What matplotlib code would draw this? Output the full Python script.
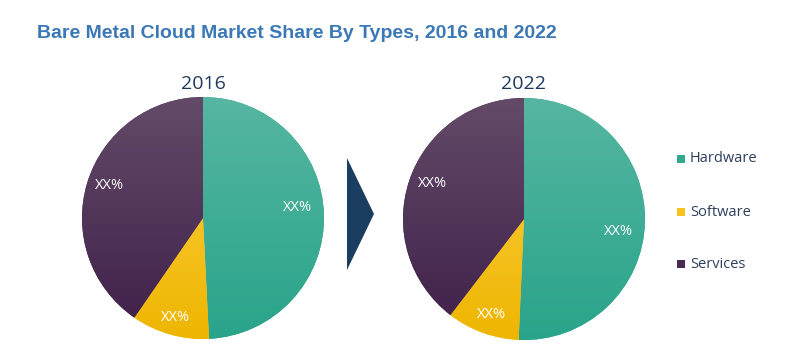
import numpy as np
import matplotlib
matplotlib.use('Agg')
import matplotlib.pyplot as plt
from matplotlib.colors import LinearSegmentedColormap
from matplotlib.patches import Polygon

categories = ['Hardware', 'Software', 'Services']
years = ['2016', '2022']
share_2016 = [49.2, 10.4, 40.4]
share_2022 = [50.7, 9.7, 39.6]
pct_labels = ['XX%', 'XX%', 'XX%']

# (top colour, bottom colour) for the soft vertical gradient in each wedge
grad = {
    'Hardware': ('#56b6a1', '#29a48a'),
    'Software': ('#ffd04a', '#eeb600'),
    'Services': ('#634b68', '#3f1f49'),
}
solid = {'Hardware': '#33a98f', 'Software': '#fbc31a', 'Services': '#4a2a52'}

# label spots inside each pie (axes data units, radius = 1)
label_pos = {
    '2016': [(0.78, 0.09), (-0.23, -0.82), (-0.77, 0.27)],
    '2022': [(0.785, -0.107), (-0.27, -0.79), (-0.76, 0.29)],
}

fig = plt.figure(figsize=(7.93, 3.63), dpi=100)
fig.patch.set_facecolor('white')

fig.text(37 / 793, 1 - 34 / 363, 'Bare Metal Cloud Market Share By Types, 2016 and 2022',
         fontsize=14, fontweight='bold', color='#3b78b6', family='Liberation Sans',
         va='center', ha='left')

W, H = 793, 363
R = 121
centers = {'2016': (203, 218), '2022': (524, 219)}
data = {'2016': share_2016, '2022': share_2022}

for yr in years:
    cx, cy = centers[yr]
    ax = fig.add_axes([(cx - R) / W, 1 - (cy + R) / H, 2 * R / W, 2 * R / H])
    wedges, _ = ax.pie(data[yr], startangle=90, counterclock=False,
                       colors=[solid[c] for c in categories], radius=1,
                       wedgeprops=dict(linewidth=0))
    yy = np.linspace(0, 1, 256).reshape(-1, 1)
    for w, c in zip(wedges, categories):
        cmap = LinearSegmentedColormap.from_list(c, [grad[c][1], grad[c][0]])
        im = ax.imshow(yy, cmap=cmap, extent=[-1, 1, -1, 1], origin='lower',
                       aspect='auto', zorder=2)
        im.set_clip_path(w)
    for (x, y), t in zip(label_pos[yr], pct_labels):
        ax.text(x, y, t, color='white', fontsize=10.5, family='Open Sans',
                ha='center', va='center', zorder=3)
    ax.set_xlim(-1, 1)
    ax.set_ylim(-1, 1)
    ax.set_aspect('auto')
    ax.axis('off')
    fig.text(cx / W, 1 - 84 / H, yr, fontsize=14, color='#1f3a5f',
             family='Open Sans', fontweight='medium', ha='center', va='center')

# arrow between the two pies
arrow = Polygon([(347 / W, 1 - 158 / H), (347 / W, 1 - 270 / H), (374 / W, 1 - 214 / H)],
                closed=True, transform=fig.transFigure, facecolor='#1b3d5f',
                edgecolor='none')
fig.patches.append(arrow)

# legend
leg_y = [159, 212, 264]
for c, y in zip(categories, leg_y):
    fig.patches.append(plt.Rectangle((677 / W, 1 - (y + 4) / H), 8 / W, 8 / H,
                                     transform=fig.transFigure, facecolor=solid[c],
                                     edgecolor='none'))
    fig.text(690 / W, 1 - y / H, c, fontsize=10.5, color='#2d3f5e',
             family='Open Sans', ha='left', va='center')

fig.savefig('out.png', dpi=100, facecolor='white')
